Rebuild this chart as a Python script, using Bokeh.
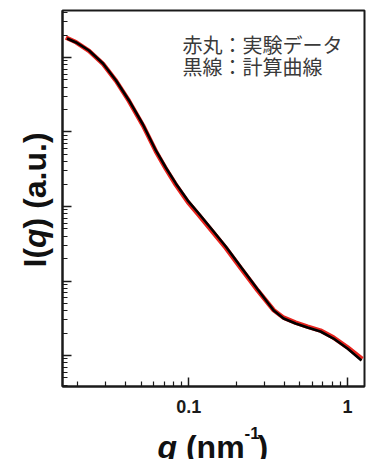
import math
from bokeh.plotting import figure
from bokeh.layouts import column, row
from bokeh.models import FixedTicker, Label, NumeralTickFormatter, CustomJSTickFormatter
from bokeh.embed import file_html
from bokeh.resources import INLINE

# --- data ---
q_calc = [0.0171, 0.0195, 0.0235, 0.0288, 0.0348, 0.0420, 0.0514, 0.0620, 0.0716,
          0.0828, 0.0986, 0.1156, 0.1416, 0.171, 0.212, 0.272, 0.343, 0.396, 0.471,
          0.560, 0.676, 0.817, 1.0, 1.225]
I_calc = [1.80e4, 1.59e4, 1.24e4, 8300, 4910, 2650, 1260, 565, 334,
          204, 120, 80.5, 47.6, 29.1, 15.7, 7.69, 4.02, 3.14, 2.69,
          2.38, 2.10, 1.69, 1.24, 0.857]

q_exp = [0.0168, 0.0195, 0.0235, 0.0288, 0.0348, 0.0420, 0.0514, 0.0620, 0.0716,
         0.0828, 0.0986, 0.1156, 0.1416, 0.171, 0.212, 0.272, 0.343, 0.396, 0.471,
         0.560, 0.676, 0.817, 1.0, 1.24]
I_exp = [1.85e4, 1.60e4, 1.23e4, 8200, 4850, 2600, 1230, 550, 322,
         196, 115, 77, 45.5, 27.8, 15.0, 7.45, 4.05, 3.22, 2.76,
         2.44, 2.16, 1.74, 1.29, 0.90]

x_major = [0.1, 1.0]
x_minor = [k * 0.01 for k in range(2, 10)] + [k * 0.1 for k in range(2, 10)]
y_major = [1.0, 10.0, 100.0, 1000.0, 10000.0]
y_minor = [k * 10.0 ** n for n in range(-1, 5) for k in range(2, 10)]

legend_lines = ["赤丸：実験データ", "黒線：計算曲線"]

FONT = "Arial"          # resolved to the metric-compatible Liberation Sans
EM = 32.0

# ---------------- main plot ----------------
p = figure(width=314, height=420, x_axis_type="log", y_axis_type="log",
           x_range=(0.0160, 1.28), y_range=(0.384, 4.27e4),
           output_backend="svg", toolbar_location=None,
           min_border_left=8, min_border_right=4, min_border_top=10, min_border_bottom=34)
p.grid.visible = False
p.background_fill_color = "white"
p.outline_line_color = "#1a1a1a"
p.outline_line_width = 2

p.line(q_exp, I_exp, line_color="#e8231d", line_width=4.5)
p.line(q_calc, I_calc, line_color="black", line_width=2.6)

for ax in (p.xaxis[0], p.yaxis[0]):
    ax.axis_line_color = "#1a1a1a"
    ax.axis_line_width = 2
    ax.major_tick_line_color = "#1a1a1a"
    ax.minor_tick_line_color = "#1a1a1a"
    ax.major_tick_line_width = 1.5
    ax.minor_tick_line_width = 1.2
    ax.major_tick_in = 9
    ax.major_tick_out = 0
    ax.minor_tick_in = 5
    ax.minor_tick_out = 0

p.xaxis.ticker = FixedTicker(ticks=x_major, minor_ticks=x_minor)
p.yaxis.ticker = FixedTicker(ticks=y_major, minor_ticks=y_minor)
p.xaxis.formatter = NumeralTickFormatter(format="0.[0]")
p.yaxis.formatter = CustomJSTickFormatter(code="return ''")
p.yaxis.major_label_standoff = 0
p.xaxis.major_label_text_font = FONT
p.xaxis.major_label_text_font_style = "bold"
p.xaxis.major_label_text_font_size = "18px"
p.xaxis.major_label_text_color = "#1a1a1a"
p.xaxis.major_label_standoff = 13


def lab(fig, x, y, text, style="bold", size="32px", angle=0.0, align="left",
        baseline="alphabetic", font=FONT, color="#111111"):
    fig.add_layout(Label(x=x, y=y, x_units="screen", y_units="screen", text=text,
                         text_font=font, text_font_style=style, text_font_size=size,
                         text_color=color, angle=angle, text_align=align,
                         text_baseline=baseline))


lab(p, 120, 342, legend_lines[0], style="normal", size="20px", baseline="middle",
    font="Noto Sans CJK JP", color="#3a3a3a")
lab(p, 120, 320, legend_lines[1], style="normal", size="20px", baseline="middle",
    font="Noto Sans CJK JP", color="#3a3a3a")


def blank_fig(w, h):
    f = figure(width=w, height=h, x_range=(0, 1), y_range=(0, 1),
               x_axis_location=None, y_axis_location=None,
               output_backend="svg", toolbar_location=None,
               min_border=0)
    f.grid.visible = False
    f.outline_line_color = None
    return f


# y axis title panel (its frame is aligned with the main plot frame)
yfig = blank_fig(54, 420)
xb, y0 = 34, 119
lab(yfig, xb, y0, "I(", angle=math.pi / 2)
y1 = y0 + 0.611 * EM
lab(yfig, xb, y1, "q", style="bold italic", angle=math.pi / 2)
y2 = y1 + 0.611 * EM
lab(yfig, xb, y2, ") (a.u.)", angle=math.pi / 2)

# x axis title panel
xfig = blank_fig(368, 39)
x0, yb = 157, 13
lab(xfig, x0, yb, "q", style="bold italic")
x1 = x0 + (0.611 + 0.278) * EM
lab(xfig, x1, yb, "(nm")
x2 = x1 + (0.333 + 0.611 + 0.889) * EM
lab(xfig, x2, yb + 14, "-1", size="17px")
lab(xfig, x2 + 13, yb, ")")

layout = column(row(yfig, p), xfig)

open("out.html", "w").write(file_html(layout, INLINE))
